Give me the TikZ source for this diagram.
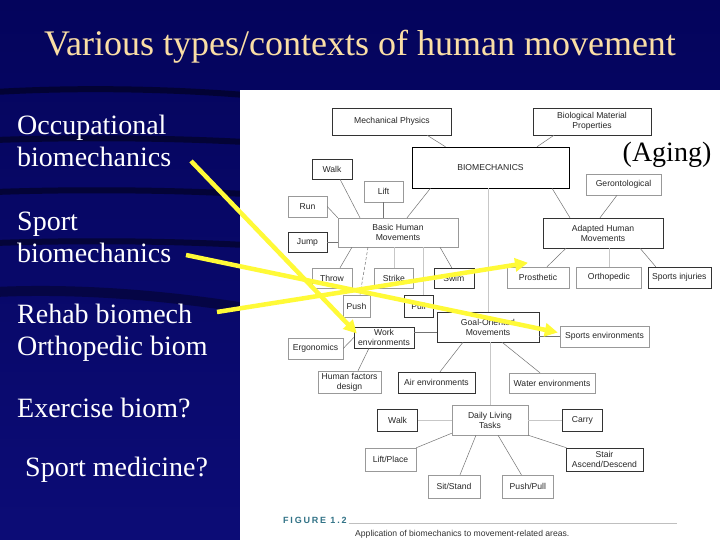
\documentclass[tikz,border=0pt]{standalone}
\usepackage{fontspec}
\setmainfont{Liberation Serif}
\newfontfamily\figfont{Liberation Sans}
\usepackage{xcolor}
\usepackage{tikz}
\usetikzlibrary{arrows.meta, positioning, calc}

\definecolor{slidenavy}{RGB}{4,4,92}
\definecolor{slidedeep}{RGB}{12,12,118}
\definecolor{titletan}{RGB}{250,222,165}
\definecolor{markyellow}{RGB}{255,250,55}
\definecolor{figteal}{RGB}{50,115,135}

\begin{document}
\begin{tikzpicture}[
  x=1pt, y=-1pt,
  >=Stealth,
  figbox/.style={draw=black!80, fill=white, inner sep=1pt, align=center, font=\figfont\fontsize{8.6}{10}\selectfont, text=black!85},
  figlight/.style={figbox, draw=black!40},
  wh/.style 2 args={minimum width=#1pt, minimum height=#2pt},
  link/.style={draw=black!55, line width=0.5pt},
  faintlink/.style={draw=black!22, line width=0.5pt},
  slidetext/.style={anchor=west, align=left, inner sep=0pt, text=white, font=\fontsize{28}{32}\selectfont},
  pointer/.style={draw=markyellow, line width=4.5pt, -{Triangle[length=13pt,width=13pt]}},
  band/.style={line width=6pt, draw=black, opacity=.45},
]
\useasboundingbox (0,0) rectangle (720,540);

% Slide background
\fill[top color=slidenavy, bottom color=slidedeep] (0,0) rectangle (720,540);
\draw[band] (-5,92) .. controls (80,87) and (170,89) .. (245,95);
\draw[band] (-5,140) .. controls (80,137) and (170,138) .. (245,142);
\draw[band] (-5,192) .. controls (80,189) and (170,190) .. (245,194);
\draw[band] (-5,243) .. controls (80,240) and (170,241) .. (245,245);
\draw[band, line width=10pt, opacity=.35] (-5,292) .. controls (80,288) and (170,296) .. (245,308);
\fill[white] (240,90) rectangle (720,540);

% Title
\node[text=titletan, font=\fontsize{36}{40}\selectfont] (title) at (360,47) {Various types/contexts of human movement};

% Left column
\node[slidetext] (occ) at (17,141) {Occupational\\biomechanics};
\node[slidetext] (sport) at (17,237) {Sport\\biomechanics};
\node[slidetext] (rehab) at (17,332.5) {Rehab biomech\\Orthopedic biom};
\node[slidetext] (exer) at (17,408) {Exercise biom?};
\node[slidetext] (sportmed) at (25,470) {Sport medicine?};

% Top of the figure
\node[figbox, wh={119}{27}] (mech) at (392,121.5) {Mechanical Physics};
\node[figbox, wh={118}{27}] (biomat) at (592,121.5) {Biological Material\\Properties};
\node[figbox, draw=black, wh={157}{41}] (biomech) at (490.5,167.5) {BIOMECHANICS};

% Basic human movements
\node[figbox, wh={40}{20}] (walk) at (332,169) {Walk};
\node[figlight, wh={39}{21}] (lift) at (383.5,191.5) {Lift};
\node[figlight, wh={39}{21}] (run) at (307.5,206.5) {Run};
\node[figlight, wh={120}{29}] (basic) at (398,232.5) {Basic Human\\Movements};
\node[figbox, wh={39}{20}] (jump) at (307.5,242) {Jump};
\node[figlight, wh={40}{20}] (throw) at (332,278) {Throw};
\node[figlight, wh={39}{20}, right=22pt of throw] (strike) {Strike};
\node[figbox, wh={40}{20}, right=20pt of strike] (swim) {Swim};
\node[figlight, wh={27}{22}] (push) at (356.5,306) {Push};
\node[figbox, wh={29}{22}] (pull) at (418.5,306) {Pull};

% Adapted human movements
\node[figlight, wh={75}{21}] (geron) at (623.5,184.5) {Gerontological};
\node[figbox, wh={120}{30}] (adapted) at (603,233) {Adapted Human\\Movements};
\node[figlight, wh={62}{21}] (prosth) at (538,277.5) {Prosthetic};
\node[figlight, wh={65}{21}, right=7pt of prosth] (ortho) {Orthopedic};
\node[figbox, wh={63}{21}, right=6pt of ortho] (sportinj) {Sports injuries};

% Goal-oriented movements
\node[figbox, wh={102}{30}] (goal) at (488,327) {Goal-Oriented\\Movements};
\node[figbox, wh={60}{21}] (workenv) at (384,337.5) {Work\\environments};
\node[figlight, wh={55}{21}] (ergo) at (315.5,348.5) {Ergonomics};
\node[figlight, wh={63}{22}] (humfac) at (349.5,382) {Human factors\\design};
\node[figbox, wh={77}{21}] (airenv) at (436.5,382.5) {Air environments};
\node[figlight, wh={89}{21}] (sportenv) at (604.5,336.5) {Sports environments};
\node[figlight, wh={86}{20}] (waterenv) at (552,383) {Water environments};

% Daily living tasks
\node[figlight, wh={76}{30}] (daily) at (490,420) {Daily Living\\Tasks};
\node[figbox, wh={40}{22}, left=34pt of daily] (walktwo) {Walk};
\node[figbox, wh={40}{22}, right=34pt of daily] (carry) {Carry};
\node[figlight, wh={51}{23}] (liftplace) at (390.5,459.5) {Lift/Place};
\node[figbox, wh={77}{23}] (stair) at (604.5,459.5) {Stair\\Ascend/Descend};
\node[figlight, wh={52}{23}] (sitstand) at (454,486.5) {Sit/Stand};
\node[figlight, wh={51}{23}, right=22pt of sitstand] (pushpull) {Push/Pull};

% Links of the figure
\draw[link] ([xshift=35pt]mech.south) -- ([xshift=-45pt]biomech.north);
\draw[link] ([xshift=-38pt]biomat.south) -- ([xshift=46.5pt]biomech.north);
\draw[link] ([xshift=-60pt]biomech.south) -- ([xshift=9pt]basic.north);
\draw[link] ([xshift=61.5pt]biomech.south) -- ([xshift=-33pt]adapted.north);
\draw[faintlink] (goal.north |- biomech.south) -- (goal.north);
\draw[link] ([xshift=8pt]walk.south) -- ([xshift=-38pt]basic.north);
\draw[link] (lift.south) -- (lift.south |- basic.north);
\draw[link] (run.east) -- (basic.north west);
\draw[link] (jump.east) -- (jump.east -| basic.west);
\draw[link] ([xshift=-46pt]basic.south) -- ([xshift=8pt]throw.north);
\draw[link, densely dashed] ([xshift=-30pt]basic.south) -- ([xshift=3.5pt]push.north);
\draw[faintlink] (strike.north |- basic.south) -- (strike.north);
\draw[faintlink] ([xshift=4.5pt]pull.north |- basic.south) -- ([xshift=4.5pt]pull.north);
\draw[link] ([xshift=42pt]basic.south) -- ([xshift=-2pt]swim.north);
\draw[link] ([xshift=-6.5pt]geron.south) -- ([xshift=-3pt]adapted.north);
\draw[link] ([xshift=-37pt]adapted.south) -- ([xshift=9pt]prosth.north);
\draw[faintlink] (ortho.north |- adapted.south) -- (ortho.north);
\draw[link] ([xshift=37pt]adapted.south) -- ([xshift=-23.5pt]sportinj.north);
\draw[link] ([yshift=5pt]workenv.east) -- ([yshift=5pt]workenv.east -| goal.west);
\draw[link] (workenv.west) -- (ergo.east);
\draw[link] ([xshift=-15pt]workenv.south) -- ([xshift=8.5pt]humfac.north);
\draw[link] ([xshift=-25pt]goal.south) -- ([xshift=3.5pt]airenv.north);
\draw[link] ([xshift=14pt]goal.south) -- ([xshift=-12pt]waterenv.north);
\draw[link] (sportenv.west) -- (sportenv.west -| goal.east);
\draw[faintlink] (daily.north |- goal.south) -- (daily.north);
\draw[faintlink] (walktwo.east) -- (walktwo.east -| daily.west);
\draw[faintlink] (carry.west) -- (carry.west -| daily.east);
\draw[link] ([yshift=2pt]daily.south west) -- (liftplace.north east);
\draw[link] ([xshift=-14pt]daily.south) -- ([xshift=6pt]sitstand.north);
\draw[link] ([xshift=8pt]daily.south) -- ([xshift=-6.5pt]pushpull.north);
\draw[link] (daily.south east) -- ([xshift=-38pt]stair.north);

% Caption
\node[anchor=base west, inner sep=0pt, text=figteal, font=\figfont\bfseries\fontsize{9}{10}\selectfont\addfontfeature{LetterSpace=20}] (fignum) at (283,523) {FIGURE 1.2};
\draw[black!25, line width=0.8pt] ([xshift=2pt]fignum.base east) -- ++(328,0);
\node[anchor=base west, inner sep=0pt, text=black!80, font=\figfont\fontsize{8.6}{10}\selectfont] (figcap) at (355,536.5) {Application of biomechanics to movement-related areas.};

% (Aging) note
\node[font=\fontsize{28}{32}\selectfont] (aging) at (667,155) {(Aging)};

% Yellow pointers
\coordinate (occtail) at (191,161);
\coordinate (sporttail) at (186,255);
\coordinate (rehabtail) at (217,312);
\draw[pointer] (occtail) -- ([xshift=3pt,yshift=4pt]workenv.west);
\draw[pointer] (sporttail) -- ([xshift=-2pt,yshift=4pt]sportenv.west);
\draw[pointer] (rehabtail) -- ([xshift=-10pt,yshift=4pt]prosth.north);

\end{tikzpicture}
\end{document}
